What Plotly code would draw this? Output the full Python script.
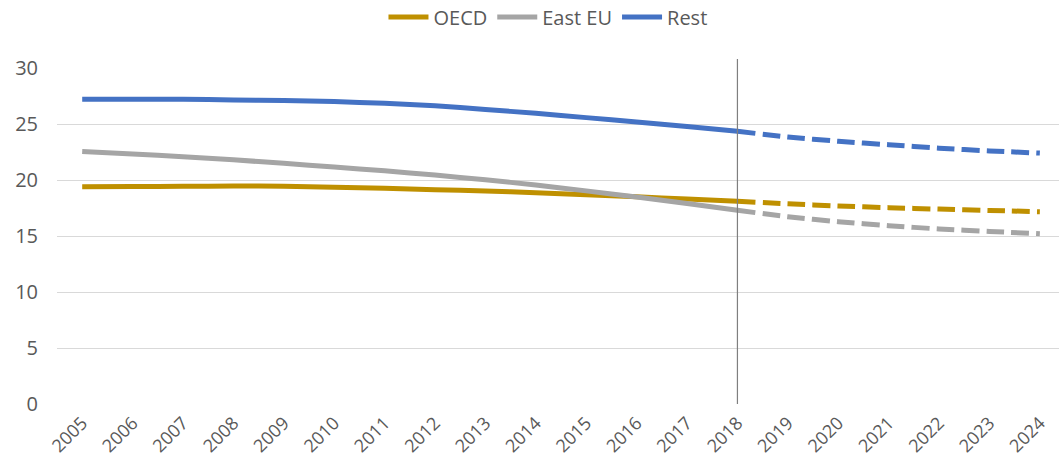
import plotly.graph_objects as go

# Historical values (2005-2018) and projections (2018-2024)
years_hist = list(range(2005, 2019))
years_proj = list(range(2018, 2025))
tick_years = list(range(2005, 2025))

oecd_hist = [19.4, 19.42, 19.44, 19.46, 19.45, 19.36, 19.26, 19.14, 19.01, 18.87, 18.69, 18.5, 18.3, 18.1]
east_hist = [22.55, 22.32, 22.08, 21.8, 21.49, 21.16, 20.82, 20.44, 20.02, 19.55, 19.03, 18.48, 17.9, 17.3]
rest_hist = [27.2, 27.2, 27.2, 27.15, 27.1, 27.0, 26.85, 26.62, 26.3, 25.95, 25.57, 25.17, 24.77, 24.35]

oecd_proj = [18.1, 17.88, 17.68, 17.53, 17.4, 17.28, 17.17]
east_proj = [17.3, 16.72, 16.28, 15.92, 15.63, 15.41, 15.2]
rest_proj = [24.35, 23.84, 23.46, 23.15, 22.84, 22.6, 22.4]

series = [
    ("OECD", "#BF9000", oecd_hist, oecd_proj),
    ("East EU", "#A5A5A5", east_hist, east_proj),
    ("Rest", "#4472C4", rest_hist, rest_proj),
]

FONT = "Open Sans, Noto Sans, sans-serif"
FSIZE = 20

fig = go.Figure()
for name, color, hist, proj in series:
    fig.add_trace(go.Scatter(
        x=years_hist, y=hist, name=name, mode="lines",
        line=dict(color=color, width=5, shape="spline", smoothing=0.6),
        legendgroup=name,
    ))
    fig.add_trace(go.Scatter(
        x=years_proj, y=proj, name=name, mode="lines", showlegend=False,
        line=dict(color=color, width=5, dash="18px,7px", shape="spline", smoothing=0.6),
        legendgroup=name,
    ))

# Boundary between history and projection
fig.add_shape(type="line", xref="x", yref="paper", x0=2018, x1=2018, y0=0, y1=1.027,
              line=dict(color="#7F7F7F", width=1.2), layer="above")

fig.update_layout(
    width=1059, height=466,
    margin=dict(l=57, r=0, t=68, b=62, autoexpand=False),
    paper_bgcolor="white", plot_bgcolor="white",
    font=dict(family=FONT, size=FSIZE, color="#595959"),
    showlegend=True,
    legend=dict(orientation="h", x=0.49, xanchor="center", y=1.152, yanchor="middle",
                font=dict(family=FONT, size=FSIZE, color="#595959"),
                itemwidth=40, traceorder="normal"),
    xaxis=dict(
        range=[2004.5, 2024.38], tickmode="array", tickvals=tick_years,
        ticktext=[str(y) for y in tick_years], tickangle=-45,
        showgrid=False, zeroline=False, showline=False, ticks="",
        ticklabelstandoff=4, automargin=False,
        tickfont=dict(family=FONT, size=18, color="#595959"),
    ),
    yaxis=dict(
        range=[0, 30], tickmode="array", tickvals=[0, 5, 10, 15, 20, 25, 30],
        showgrid=True, gridcolor="#D9D9D9", gridwidth=1.2,
        zeroline=False, showline=False, ticks="", ticklabelstandoff=18,
        automargin=False,
        tickfont=dict(family=FONT, size=FSIZE, color="#595959"),
    ),
)

fig.write_html("out.html")
